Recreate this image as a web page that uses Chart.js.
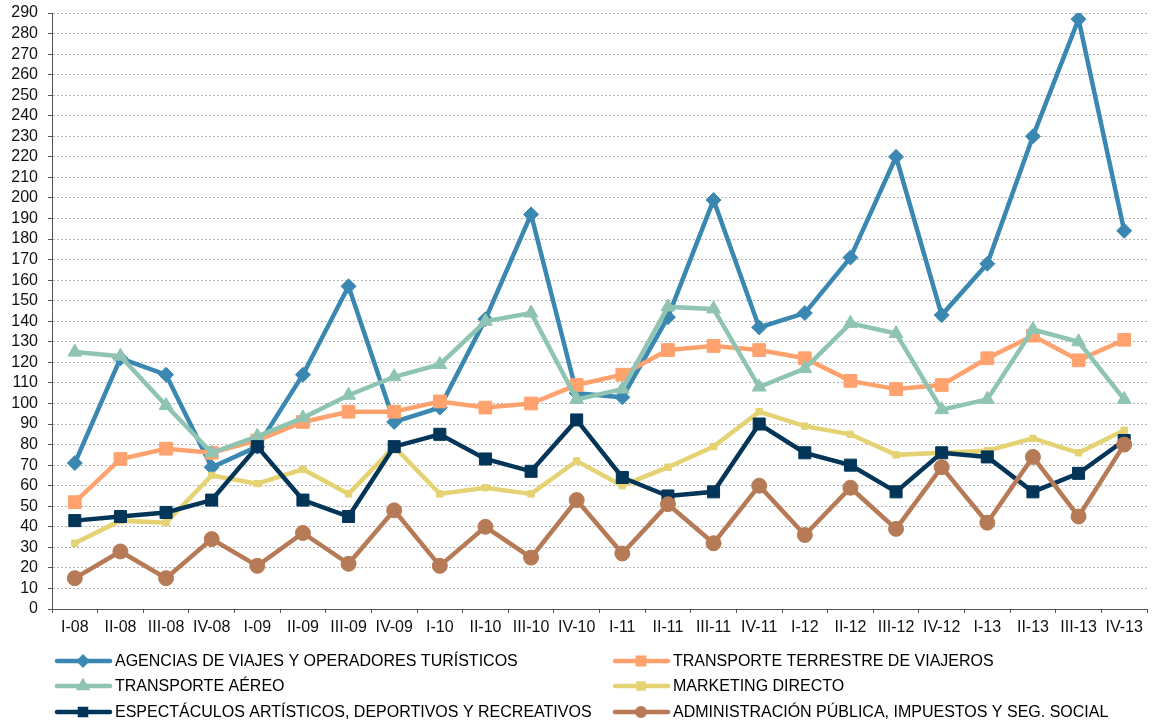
<!DOCTYPE html>
<html>
<head>
<meta charset="utf-8">
<script src="https://cdn.jsdelivr.net/npm/chart.js@4.4.1/dist/chart.umd.min.js"></script>
<style>
  body { margin: 0; background: #fff; }
  #wrap { width: 1157px; height: 724px; }
</style>
</head>
<body>
<div id="wrap"><canvas id="chart" width="1157" height="724"></canvas></div>
<script>
const quarters = ['I-08', 'II-08', 'III-08', 'IV-08', 'I-09', 'II-09', 'III-09', 'IV-09',
    'I-10', 'II-10', 'III-10', 'IV-10', 'I-11', 'II-11', 'III-11', 'IV-11',
    'I-12', 'II-12', 'III-12', 'IV-12', 'I-13', 'II-13', 'III-13', 'IV-13'];

const agencias = [71, 122, 114, 69, 79, 114, 157, 91, 98, 141, 192, 105, 103, 142, 199, 137, 144, 171, 220, 143, 168, 230, 287, 184];
const terrestre = [52, 73, 78, 76, 82, 91, 96, 96, 101, 98, 100, 109, 114, 126, 128, 126, 122, 111, 107, 109, 122, 133, 121, 131];
const aereo = [125, 123, 99, 76, 84, 93, 104, 113, 119, 140, 144, 102, 107, 147, 146, 108, 117, 139, 134, 97, 102, 136, 130, 102];
const marketing = [32, 43, 42, 65, 61, 68, 56, 79, 56, 59, 56, 72, 60, 69, 79, 96, 89, 85, 75, 76, 77, 83, 76, 87];
const espectaculos = [43, 45, 47, 53, 79, 53, 45, 79, 85, 73, 67, 92, 64, 55, 57, 90, 76, 70, 57, 76, 74, 57, 66, 82];
const administracion = [15, 28, 15, 34, 21, 37, 22, 48, 21, 40, 25, 53, 27, 51, 32, 60, 36, 59, 39, 69, 42, 74, 45, 80];

const seriesNames = ['AGENCIAS DE VIAJES Y OPERADORES TURÍSTICOS', 'TRANSPORTE TERRESTRE DE VIAJEROS',
    'TRANSPORTE AÉREO', 'MARKETING DIRECTO',
    'ESPECTÁCULOS ARTÍSTICOS, DEPORTIVOS Y RECREATIVOS', 'ADMINISTRACIÓN PÚBLICA, IMPUESTOS Y SEG. SOCIAL'];
const seriesData = [agencias, terrestre, aereo, marketing, espectaculos, administracion];
const seriesColors = ['#3a88b2', '#ffa26e', '#8fc4b3', '#e5d272', '#023558', '#b67b56'];
const seriesMarkers = ['rectRot', 'rect', 'triangle', 'rect', 'rect', 'circle'];
const markerSizes = [7.5, 9, 8, 4.5, 8.5, 7.5];

const FONT = 'Liberation Sans, Arial, sans-serif';

// legend in two columns, like the spreadsheet original
const gridLegend = {
    id: 'gridLegend',
    afterDraw(chart) {
        const ctx = chart.ctx;
        const colX = [55, 613];
        const rowY = [661, 686, 712];
        ctx.save();
        chart.data.datasets.forEach(function (ds, i) {
            const x = colX[i % 2];
            const y = rowY[Math.floor(i / 2)];
            ctx.strokeStyle = ds.borderColor;
            ctx.lineWidth = 4.5;
            ctx.lineCap = 'round';
            ctx.beginPath();
            ctx.moveTo(x + 2, y);
            ctx.lineTo(x + 55, y);
            ctx.stroke();
            ctx.fillStyle = ds.borderColor;
            Chart.helpers.drawPoint(ctx, { pointStyle: ds.pointStyle, radius: Math.max(ds.pointRadius * 0.5, 3.5), rotation: 0, borderWidth: 1 }, x + 28, y);
            ctx.fillStyle = '#000';
            ctx.font = '16px ' + FONT;
            ctx.textBaseline = 'middle';
            ctx.fillText(ds.label, x + 60, y + 1);
        });
        ctx.restore();
    }
};

new Chart(document.getElementById('chart').getContext('2d'), {
    type: 'line',
    data: {
        labels: quarters,
        datasets: seriesData.map(function (d, i) {
            return {
                label: seriesNames[i],
                data: d,
                borderColor: seriesColors[i],
                backgroundColor: seriesColors[i],
                borderWidth: 4.5,
                pointStyle: seriesMarkers[i],
                pointRadius: markerSizes[i],
                pointBorderWidth: 1,
                tension: 0,
                order: 6 - i
            };
        })
    },
    options: {
        responsive: false,
        animation: false,
        devicePixelRatio: 1,
        layout: { padding: { left: 0, right: 6, top: 13, bottom: 79 } },
        plugins: {
            legend: { display: false },
            tooltip: { enabled: false }
        },
        scales: {
            x: {
                offset: true,
                grid: { offset: true, drawOnChartArea: false, drawTicks: true, tickLength: 4, color: '#555' },
                border: { color: '#555', width: 1 },
                ticks: { color: '#111', font: { family: FONT, size: 16 }, padding: 5, maxRotation: 0, autoSkip: false },
                afterFit(scale) { scale.height = 36; scale.paddingLeft = 0; scale.paddingRight = 0; }
            },
            y: {
                min: 0,
                max: 290,
                grid: { color: '#b4b4b4', tickLength: 4, tickColor: '#555', tickBorderDash: [] },
                border: { color: '#555', width: 1, dash: [2, 2] },
                ticks: { stepSize: 10, autoSkip: false, color: '#111', font: { family: FONT, size: 16, lineHeight: 1 }, padding: 10 },
                afterFit(scale) { scale.width = 52; scale.paddingTop = 0; scale.paddingBottom = 0; }
            }
        }
    },
    plugins: [gridLegend]
});
</script>
</body>
</html>
